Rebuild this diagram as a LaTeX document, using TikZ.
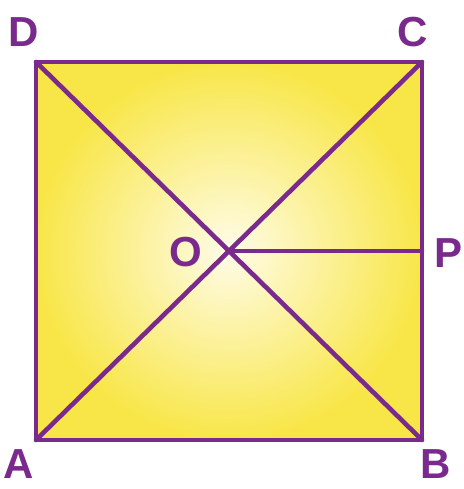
\documentclass[tikz,border=0pt]{standalone}
\usepackage{fontspec}
\setmainfont{Liberation Sans}
\definecolor{pur}{HTML}{7A2A8C}
\definecolor{yel}{HTML}{F8E648}
\definecolor{yelc}{HTML}{FFFCE8}
\begin{document}
\begin{tikzpicture}[x=1pt,y=-1pt,
  edge/.style={draw=pur,line width=4.6pt,line cap=round,line join=round},
  lbl/.style={text=pur,font=\fontsize{42}{42}\selectfont\bfseries,inner sep=0pt}]
\useasboundingbox (0,0) rectangle (463,489);
\coordinate (A) at (36,440);
\coordinate (B) at (422,440);
\coordinate (C) at (422,62);
\coordinate (D) at (36,62);
\coordinate (O) at (229,251);
\coordinate (P) at (422,251);
\shade[inner color=yelc,outer color=yel] (A) rectangle (C);
\draw[edge] (A) -- (B) -- (C) -- (D) -- cycle;
\draw[edge] (A) -- (C);
\draw[edge] (B) -- (D);
\draw[edge] (O) -- (P);
\node[lbl] (lD) at (24,32) {D};
\node[lbl] (lC) at (413,32) {C};
\node[lbl] (lO) at (186,252) {O};
\node[lbl] (lP) at (448,253) {P};
\node[lbl] (lA) at (19,464) {A};
\node[lbl] (lB) at (436,464) {B};
\end{tikzpicture}
\end{document}
